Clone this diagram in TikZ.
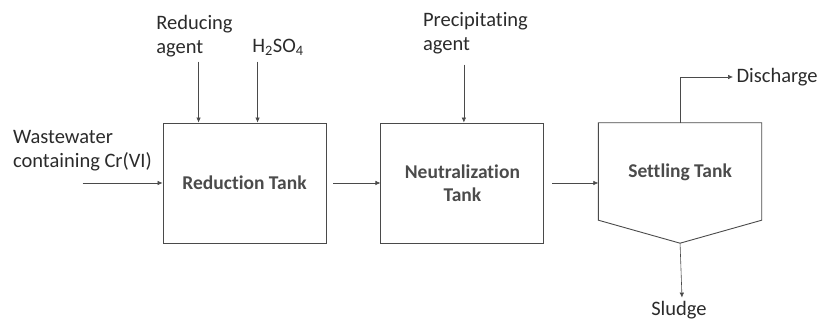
\documentclass[tikz,border=0pt]{standalone}
\usepackage{fontspec}
\setmainfont{Carlito}[Ligatures=NoCommon]
\usepackage{tikz}
\usepackage{xcolor}
\usetikzlibrary{positioning,arrows.meta}
\definecolor{inkgray}{HTML}{2B2B2B}
\definecolor{linegray}{HTML}{4A4A4A}

\begin{document}
\begin{tikzpicture}
[
x=1pt, y=1pt,
tank-a/.style={rectangle, draw=linegray, line width=0.9pt, minimum width=163pt, minimum height=120pt, align=center, text=inkgray!85, font=\fontsize{19.5pt}{23pt}\selectfont\bfseries},
tank-b/.style={rectangle, minimum width=163pt, minimum height=120pt, inner sep=0pt},
tank-line/.style={draw=linegray, line width=0.9pt, line join=miter},
text-a/.style={align=left, text=inkgray, font=\fontsize{20.5pt}{24pt}\selectfont},
text-b/.style={text=inkgray!85, font=\fontsize{19.5pt}{23pt}\selectfont\bfseries},
flow/.style={draw=linegray, line width=0.6pt, -{Latex[length=5pt,width=4.5pt]}}
]
\useasboundingbox (0,0) rectangle (817,320);
% tanks
\node (reduct)     [tank-a]                          at (244.5,137) {Reduction Tank};
\node (neut)       [tank-a, right = 54pt of reduct]                 {Neutralization\\Tank};
\node (settle)     [tank-b, right = 54pt of neut  ]                 {};
\node (settle-txt) [text-b]                          at ([yshift=11pt]settle.center) {Settling Tank};
\draw[tank-line] (settle.north west) -- (settle.north east) -- ([yshift=23pt]settle.south east)
                 -- (settle.south) -- ([yshift=23pt]settle.south west) -- cycle;
% feeds and outlets
\node (waste)      [text-a, anchor=west]             at (9.5,169)   {Wastewater\\containing Cr(VI)};
\node (red-agent)  [text-a]                          at (194.5,284) {Reducing\\agent};
\node (acid)       [text-a]                          at (278,273)   {H\textsubscript{2}SO\textsubscript{4}};
\node (prec-agent) [text-a]                          at (475.5,286.5) {Precipitating\\agent};
\node (discharge)  [text-a, anchor=west]             at (733,243)   {Discharge};
\node (sludge)     [text-a]                          at (679,10)    {Sludge};
\coordinate (waste-in) at ([xshift=-80pt]reduct.west);
\coordinate (red-top)  at ([xshift=36pt,yshift=61pt]reduct.north west);
\coordinate (acid-top) at ([xshift=95pt,yshift=61pt]reduct.north west);
\coordinate (prec-top) at ([xshift=1.5pt,yshift=58pt]neut.north);
% connectors
\draw[flow] (waste-in) -- (reduct.west);
\draw[flow] (red-top)  -- (red-top |- reduct.north);
\draw[flow] (acid-top) -- (acid-top |- reduct.north);
\draw[flow] (prec-top) -- (prec-top |- neut.north);
\draw[flow, shorten <=7pt] (reduct.east) -- (neut.west);
\draw[flow, shorten <=8pt] (neut.east)   -- (settle.west);
\draw[flow] (settle.north) |- (discharge.west);
\draw[flow] (settle.south) -- ([xshift=3pt]sludge.north);
\end{tikzpicture}
\end{document}
